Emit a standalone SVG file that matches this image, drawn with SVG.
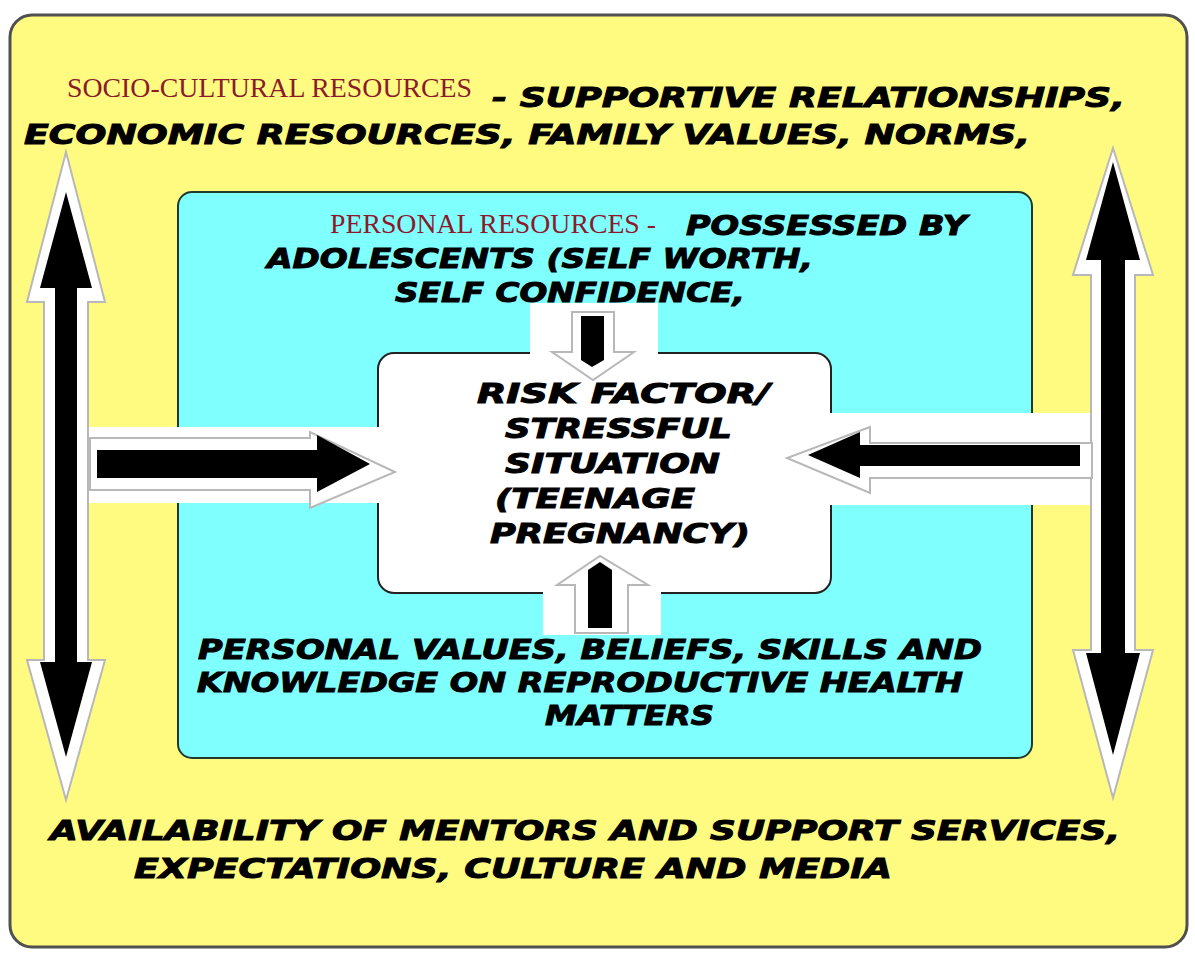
<svg xmlns="http://www.w3.org/2000/svg" width="1195" height="954" viewBox="0 0 1195 954">
  <style>
    .heavy { font-family: "DejaVu Sans", sans-serif; font-weight: bold; font-style: italic; font-size: 27px; fill: #000; stroke: #000; stroke-width: 1; }
    .label { font-family: "Liberation Serif", serif; font-size: 28px; fill: #8B1A2B; }
    .band { fill: #ffffff; }
    .outline { fill: #ffffff; stroke: #b8b8b8; stroke-width: 2; stroke-linejoin: miter; }
    .solid { fill: #000000; }
  </style>

  <!-- outer frame: socio-cultural resources -->
  <g id="socio-cultural">
    <rect x="10" y="15" width="1177" height="932" rx="22" fill="#FFFB80" stroke="#505050" stroke-width="3"/>
    <text class="label" x="67" y="97" textLength="405" lengthAdjust="spacingAndGlyphs">SOCIO-CULTURAL RESOURCES</text>
    <text class="heavy" x="492" y="107" textLength="633" lengthAdjust="spacingAndGlyphs">- SUPPORTIVE RELATIONSHIPS,</text>
    <text class="heavy" x="24" y="144" textLength="1006" lengthAdjust="spacingAndGlyphs">ECONOMIC RESOURCES, FAMILY VALUES, NORMS,</text>
    <text class="heavy" x="50" y="840" textLength="1070" lengthAdjust="spacingAndGlyphs">AVAILABILITY OF MENTORS AND SUPPORT SERVICES,</text>
    <text class="heavy" x="134" y="878" textLength="758" lengthAdjust="spacingAndGlyphs">EXPECTATIONS, CULTURE AND MEDIA</text>
  </g>

  <!-- inner panel: personal resources -->
  <g id="personal">
    <rect x="178" y="192" width="854" height="566" rx="14" fill="#80FFFF" stroke="#1F3A2C" stroke-width="2"/>
    <text class="label" x="330" y="233" textLength="326" lengthAdjust="spacingAndGlyphs">PERSONAL RESOURCES -</text>
    <text class="heavy" x="686" y="235" textLength="281" lengthAdjust="spacingAndGlyphs">POSSESSED BY</text>
    <text class="heavy" x="267" y="268" textLength="546" lengthAdjust="spacingAndGlyphs">ADOLESCENTS (SELF WORTH,</text>
    <text class="heavy" x="395" y="302" textLength="350" lengthAdjust="spacingAndGlyphs">SELF CONFIDENCE,</text>
    <text class="heavy" x="198" y="659" textLength="784" lengthAdjust="spacingAndGlyphs">PERSONAL VALUES, BELIEFS, SKILLS AND</text>
    <text class="heavy" x="197" y="692" textLength="766" lengthAdjust="spacingAndGlyphs">KNOWLEDGE ON REPRODUCTIVE HEALTH</text>
    <text class="heavy" x="545" y="725" textLength="169" lengthAdjust="spacingAndGlyphs">MATTERS</text>
  </g>

  <!-- centre: the stressful situation -->
  <g id="risk-factor">
    <rect x="378" y="353" width="453" height="240" rx="16" fill="#ffffff" stroke="#222222" stroke-width="2"/>
    <text class="heavy" x="477" y="403" textLength="293" lengthAdjust="spacingAndGlyphs">RISK FACTOR/</text>
    <text class="heavy" x="505" y="438" textLength="227" lengthAdjust="spacingAndGlyphs">STRESSFUL</text>
    <text class="heavy" x="505" y="473" textLength="215" lengthAdjust="spacingAndGlyphs">SITUATION</text>
    <text class="heavy" x="495" y="508" textLength="200" lengthAdjust="spacingAndGlyphs">(TEENAGE</text>
    <text class="heavy" x="490" y="543" textLength="260" lengthAdjust="spacingAndGlyphs">PREGNANCY)</text>
  </g>

  <!-- arrows between the levels -->
  <g id="connectors">
    <!-- white bands carrying the horizontal arrows -->
    <rect class="band" x="86" y="427" width="294" height="76"/>
    <rect class="band" x="829" y="413" width="266" height="92"/>
    <rect class="band" x="530" y="303" width="128" height="52"/>
    <rect class="band" x="543" y="585" width="118" height="50"/>

    <!-- left double arrow -->
    <polygon class="outline" points="66,152 105,302 88,302 88,660 105,660 66,800 27,660 44,660 44,302 27,302"/>
    <polygon class="solid" points="66,192 92,288 77,288 77,662 92,662 66,757 40,662 55,662 55,288 40,288"/>

    <!-- right double arrow -->
    <polygon class="outline" points="1113,148 1153,275 1135,275 1135,650 1153,650 1113,798 1073,650 1091,650 1091,275 1073,275"/>
    <polygon class="solid" points="1113,162 1140,260 1125,260 1125,653 1140,653 1113,755 1086,653 1101,653 1101,260 1086,260"/>

    <!-- left arrow into the centre -->
    <polygon class="outline" points="90,438 310,438 310,432 395,472 310,508 310,490 90,490"/>
    <polygon class="solid" points="97,450 317,450 317,435 370,464 317,492 317,478 97,478"/>

    <!-- right arrow into the centre -->
    <polygon class="outline" points="1092,443 870,443 870,427 787,458 870,493 870,478 1092,478"/>
    <polygon class="solid" points="1080,445 860,445 860,432 808,455 860,478 860,466 1080,466"/>

    <!-- top arrow into the centre -->
    <polygon class="outline" points="572,312 614,312 614,352 634,352 593,380 552,352 572,352"/>
    <polygon class="solid" points="581,316 604,316 604,360 592,367 581,360"/>

    <!-- bottom arrow into the centre -->
    <polygon class="outline" points="575,633 628,633 628,585 648,585 600,556 557,585 575,585"/>
    <polygon class="solid" points="588,628 612,628 612,570 600,562 588,570"/>
  </g>
</svg>
